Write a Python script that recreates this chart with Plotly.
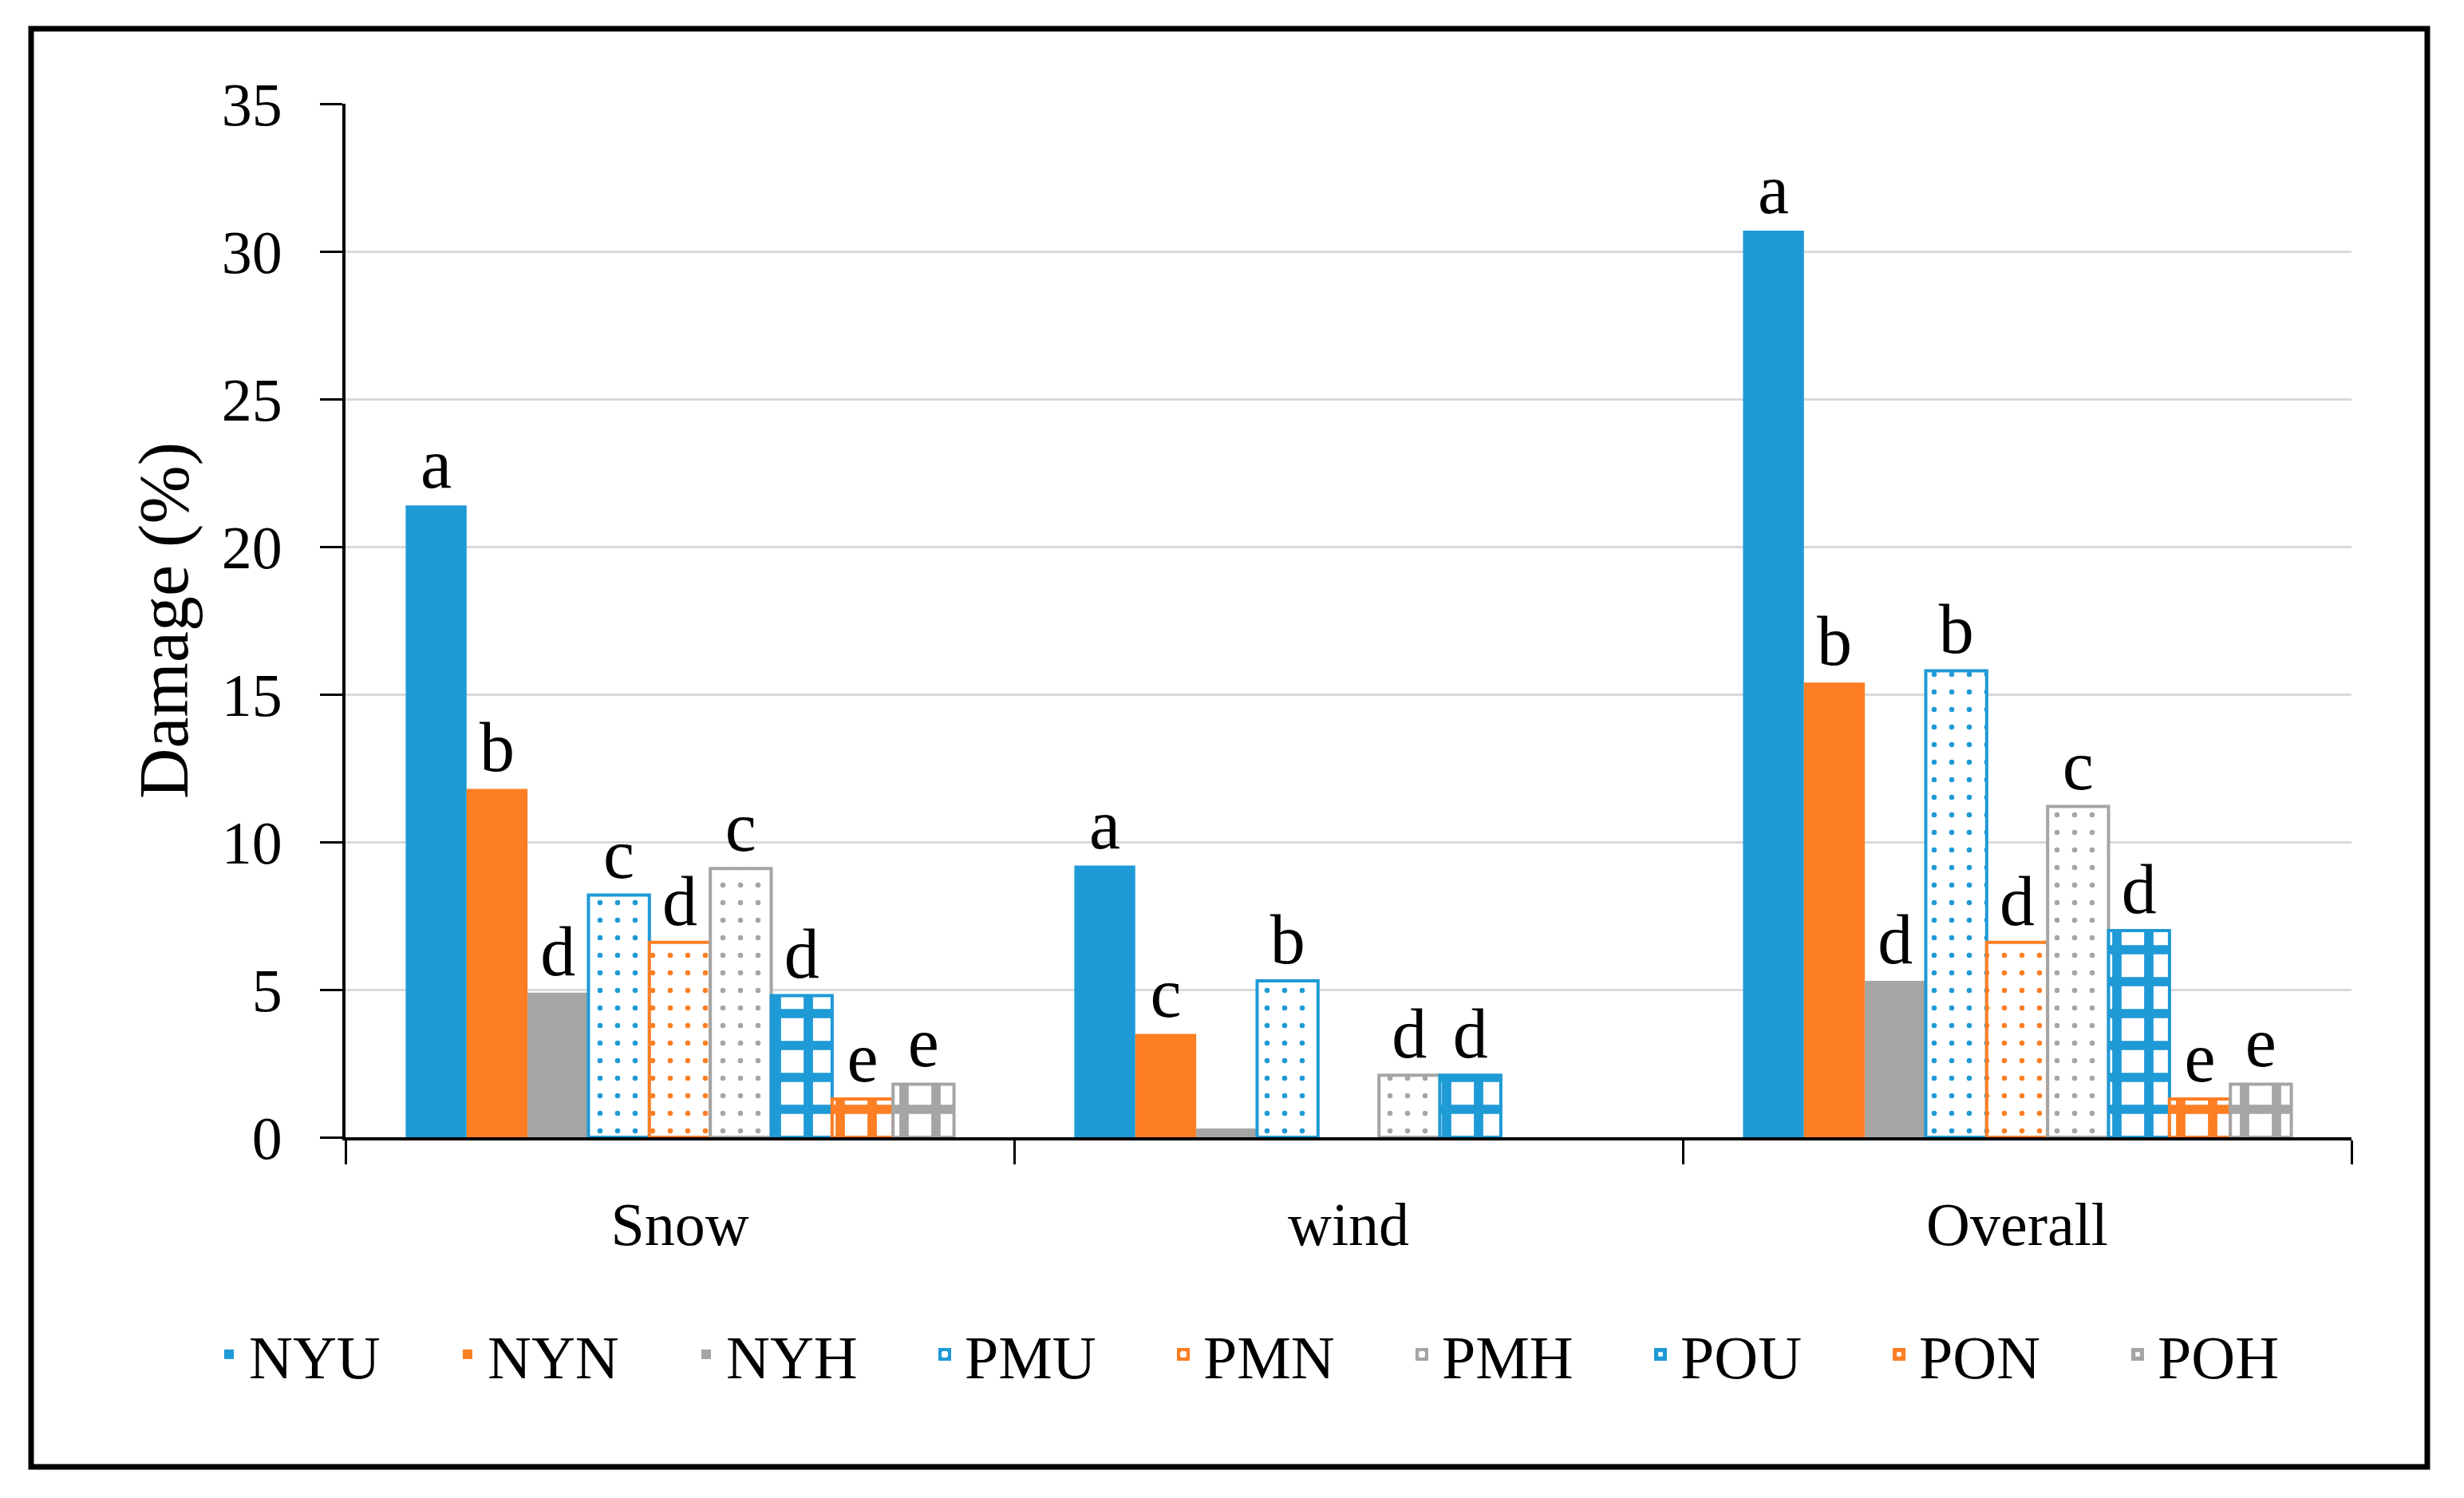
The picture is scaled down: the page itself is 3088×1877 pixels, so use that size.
import plotly.graph_objects as go

# ---------------- data ----------------
categories = ["Snow", "wind", "Overall"]
series_names = ["NYU", "NYN", "NYH", "PMU", "PMN", "PMH", "POU", "PON", "POH"]

NYU = [21.4, 9.2, 30.7]
NYN = [11.8, 3.5, 15.4]
NYH = [4.9, 0.3, 5.3]
PMU = [8.2, 5.3, 15.8]
PMN = [6.6, 0.0, 6.6]
PMH = [9.1, 2.1, 11.2]
POU = [4.8, 2.1, 7.0]
PON = [1.3, 0.0, 1.3]
POH = [1.8, 0.0, 1.8]

NYU_sig = ["a", "a", "a"]
NYN_sig = ["b", "c", "b"]
NYH_sig = ["d", "", "d"]
PMU_sig = ["c", "b", "b"]
PMN_sig = ["d", "", "d"]
PMH_sig = ["c", "d", "c"]
POU_sig = ["d", "d", "d"]
PON_sig = ["e", "", "e"]
POH_sig = ["e", "", "e"]

y_ticks = [0, 5, 10, 15, 20, 25, 30, 35]
y_title = "Damage (%)"

# ---------------- styling ----------------
BLUE = "#1E9AD6"
ORANGE = "#FD7E23"
GRAY = "#A5A5A5"
FONT = "Liberation Serif"

values = [NYU, NYN, NYH, PMU, PMN, PMH, POU, PON, POH]
sigs = [NYU_sig, NYN_sig, NYH_sig, PMU_sig, PMN_sig, PMH_sig, POU_sig, PON_sig, POH_sig]
colors = [BLUE, ORANGE, GRAY] * 3
kinds = ["solid"] * 3 + ["dots"] * 3 + ["check"] * 3

W, H = 3088, 1877
L, R, T, B = 433, 3088 - 2947, 130, 1877 - 1425

fig = go.Figure()
for name, vals, sig, col, kind in zip(series_names, values, sigs, colors, kinds):
    lw = [0 if v == 0 else 4 for v in vals]
    if kind == "solid":
        marker = dict(color=col, line=dict(color=col, width=0))
    elif kind == "dots":
        marker = dict(color=col, line=dict(color=col, width=lw),
                      pattern=dict(shape=".", fgcolor=col, bgcolor="white",
                                   size=22, solidity=0.07, fillmode="replace"))
    else:
        marker = dict(color=col, line=dict(color=col, width=lw),
                      pattern=dict(shape="+", fgcolor=col, bgcolor="white",
                                   size=40, solidity=0.5, fillmode="replace"))
    fig.add_trace(go.Bar(
        name=name, x=categories, y=vals, marker=marker,
        text=sig, textposition="outside", constraintext="none", cliponaxis=False,
        textfont=dict(family=FONT, size=88, color="black"),
        hoverinfo="skip",
    ))

def px_to_paper_x(px):
    return (px - L) / (W - L - R)

def px_to_paper_y(py):
    return (H - B - py) / (H - T - B)

fig.update_layout(
    width=W, height=H,
    margin=dict(l=L, r=R, t=T, b=B),
    paper_bgcolor="white", plot_bgcolor="white",
    barmode="group", bargap=0.18, bargroupgap=0,
    font=dict(family=FONT, size=76, color="black"),
    showlegend=True,
    legend=dict(orientation="h", x=px_to_paper_x(262), xanchor="left",
                y=px_to_paper_y(1697), yanchor="middle",
                font=dict(family=FONT, size=76, color="black"),
                entrywidth=244, itemwidth=40, traceorder="normal",
                bgcolor="rgba(0,0,0,0)"),
    xaxis=dict(type="category", showline=True, linecolor="black", linewidth=4,
               ticks="outside", tickson="boundaries", ticklen=30, tickwidth=3,
               tickcolor="black", showgrid=False, zeroline=False,
               tickfont=dict(family=FONT, size=76), ticklabelstandoff=40),
    yaxis=dict(range=[0, 35], tickvals=y_ticks, showline=True, linecolor="black",
               linewidth=4, ticks="outside", ticklen=28, tickwidth=3, tickcolor="black",
               showgrid=True, gridcolor="#D9D9D9", gridwidth=3, zeroline=False,
               tickfont=dict(family=FONT, size=76), ticklabelstandoff=32,
               title=dict(text=y_title, font=dict(family=FONT, size=88), standoff=14)),
    shapes=[dict(type="rect", xref="paper", yref="paper",
                 x0=px_to_paper_x(39), x1=px_to_paper_x(3042),
                 y0=px_to_paper_y(1838), y1=px_to_paper_y(36),
                 line=dict(color="black", width=7), fillcolor="rgba(0,0,0,0)",
                 layer="above")],
)

fig.write_html("out.html", config={"displayModeBar": False},
               post_script="document.body.style.margin='0';")
